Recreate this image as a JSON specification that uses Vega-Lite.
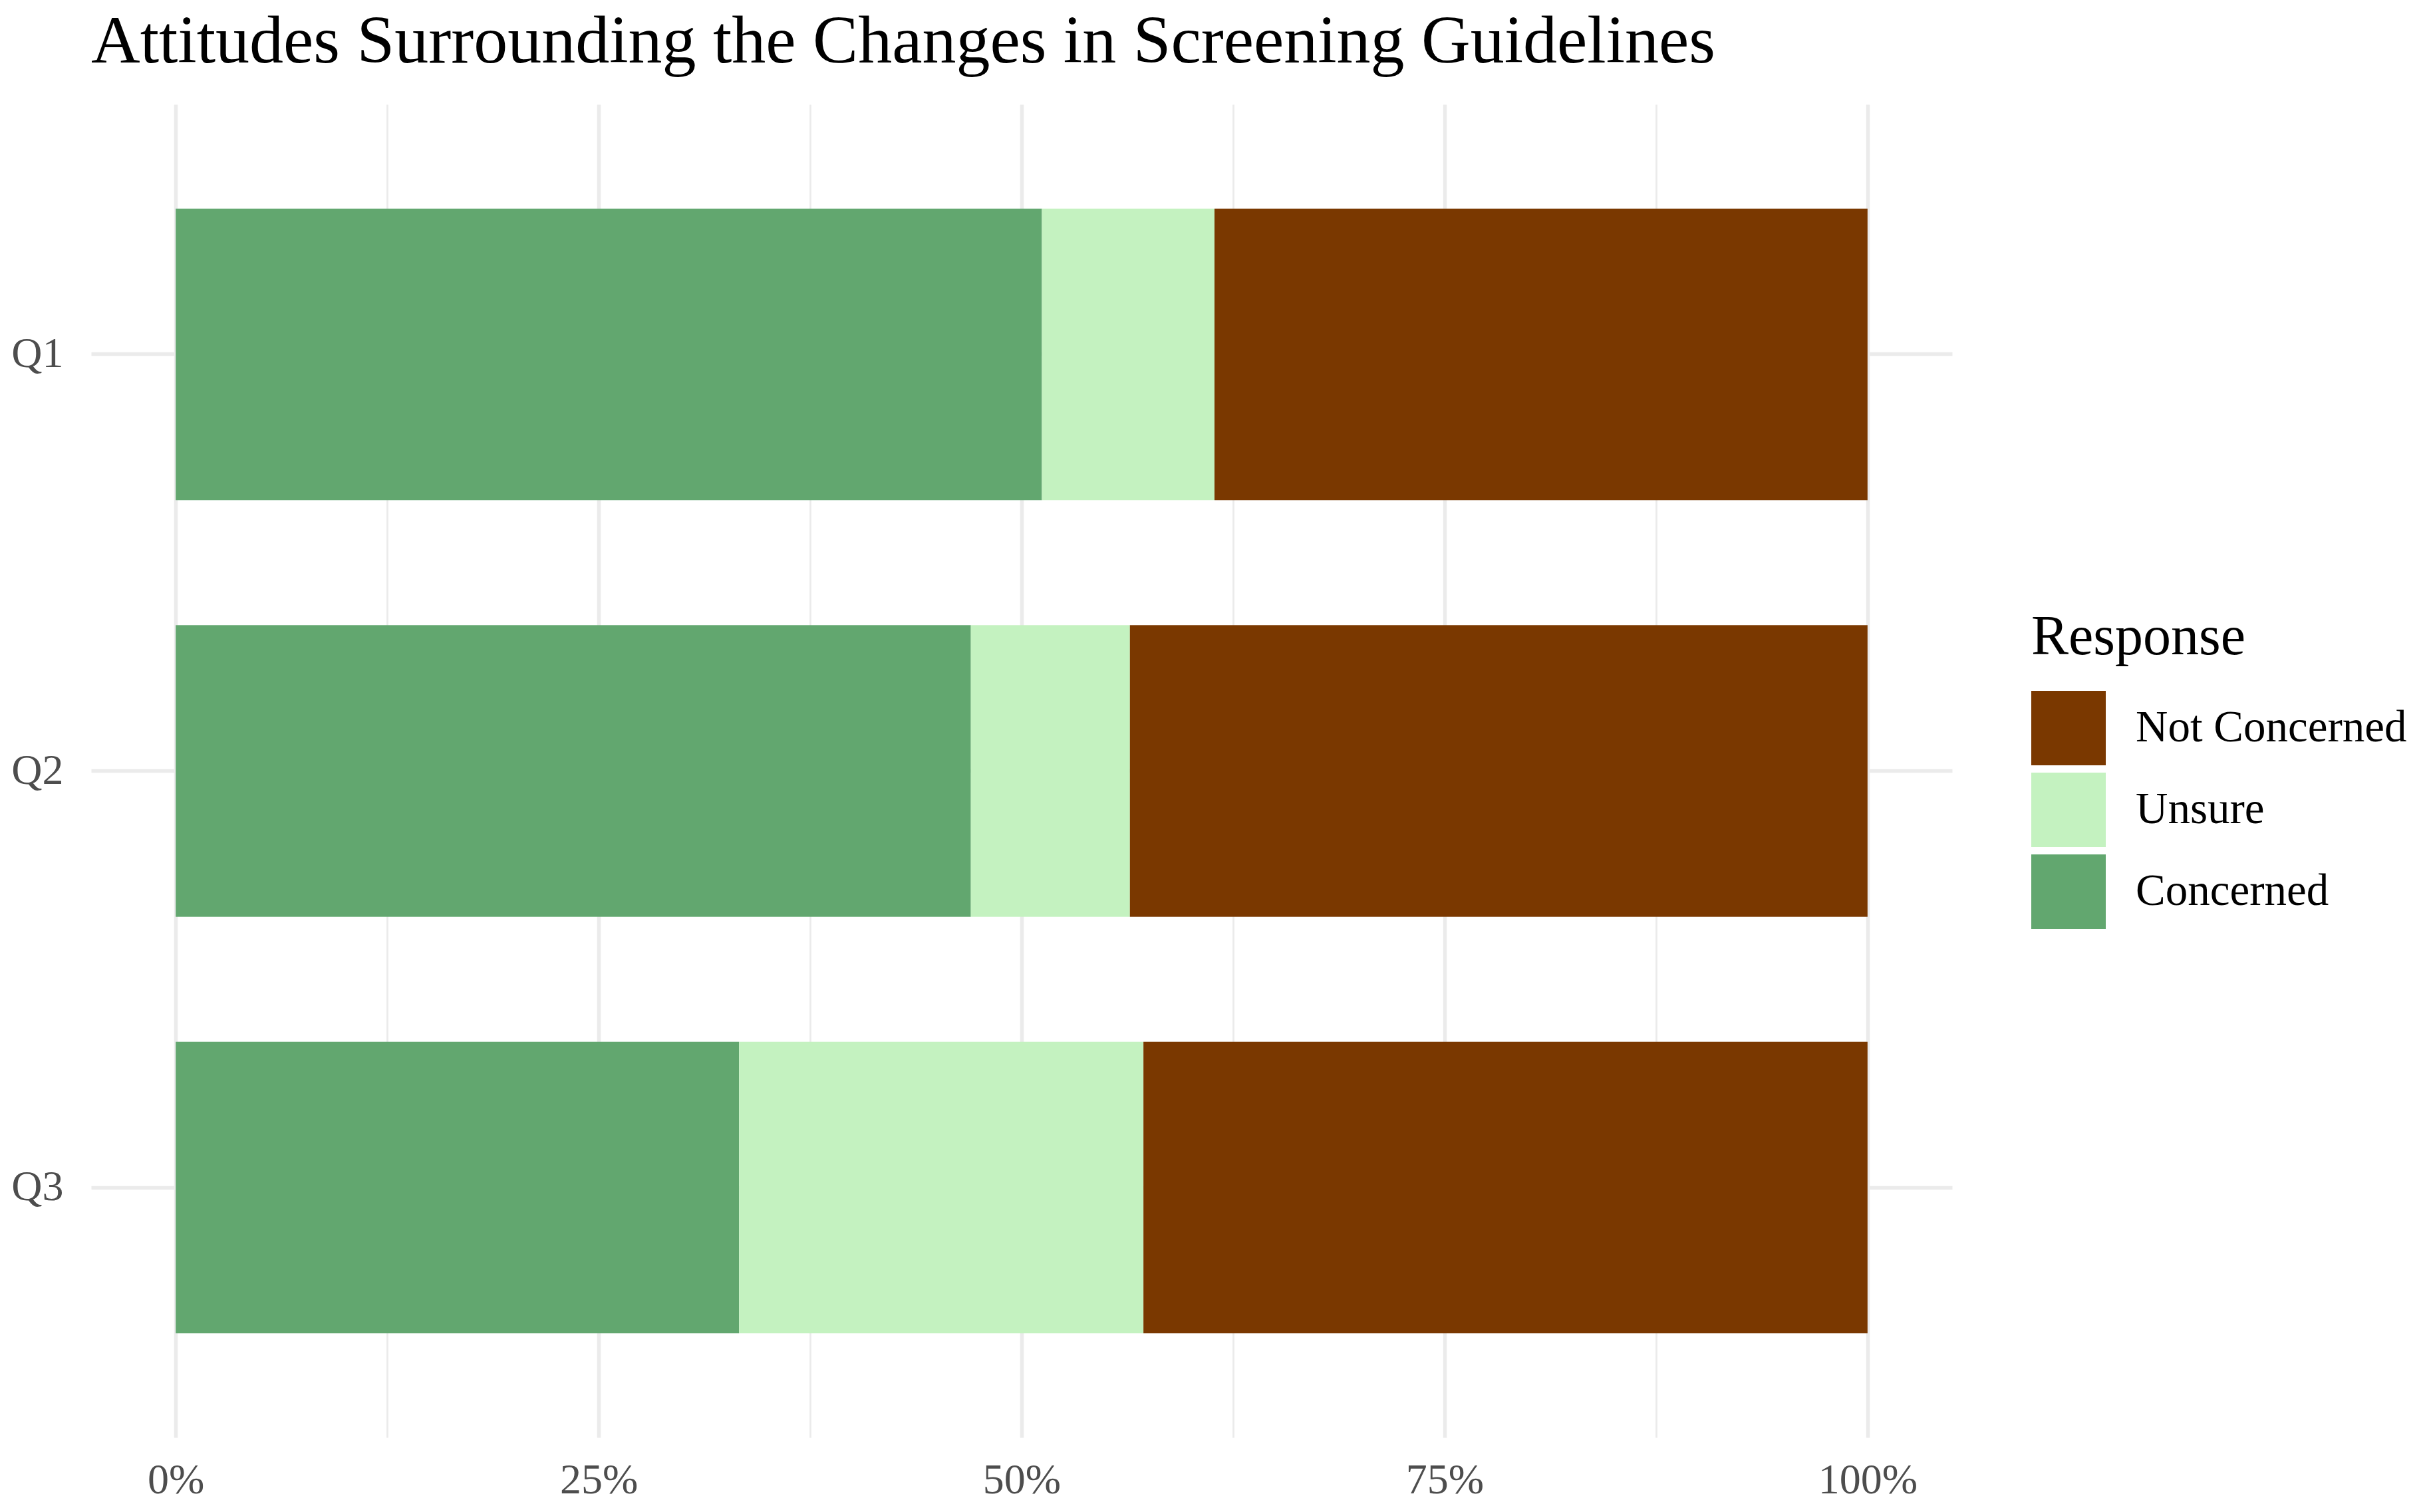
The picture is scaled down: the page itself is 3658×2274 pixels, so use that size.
{
  "$schema": "https://vega.github.io/schema/vega-lite/v6.json",
  "autosize": "none",
  "width": 2798,
  "height": 2005,
  "padding": {"left": 137, "top": 157, "right": 723, "bottom": 112},
  "background": "white",
  "title": {
    "text": "Attitudes Surrounding the Changes in Screening Guidelines",
    "anchor": "start",
    "frame": "group",
    "font": "Liberation Serif",
    "fontSize": 102,
    "fontWeight": "normal",
    "color": "#000000",
    "baseline": "alphabetic",
    "offset": -39,
    "limit": 0
  },
  "data": {
    "values": [
      {"Question": "Q1", "Response": "Concerned", "Level": 1, "Share": 0.512},
      {"Question": "Q1", "Response": "Unsure", "Level": 2, "Share": 0.102},
      {"Question": "Q1", "Response": "Not Concerned", "Level": 3, "Share": 0.386},
      {"Question": "Q2", "Response": "Concerned", "Level": 1, "Share": 0.470},
      {"Question": "Q2", "Response": "Unsure", "Level": 2, "Share": 0.094},
      {"Question": "Q2", "Response": "Not Concerned", "Level": 3, "Share": 0.436},
      {"Question": "Q3", "Response": "Concerned", "Level": 1, "Share": 0.333},
      {"Question": "Q3", "Response": "Unsure", "Level": 2, "Share": 0.239},
      {"Question": "Q3", "Response": "Not Concerned", "Level": 3, "Share": 0.428}
    ]
  },
  "mark": {"type": "bar", "strokeWidth": 0},
  "encoding": {
    "y": {
      "field": "Question",
      "type": "nominal",
      "sort": ["Q1", "Q2", "Q3"],
      "scale": {"paddingInner": 0.3, "paddingOuter": 0.25},
      "axis": {
        "title": null,
        "bandPosition": 0.5,
        "domain": false,
        "ticks": false,
        "tickSize": 0,
        "labelPadding": 42,
        "labelFont": "Liberation Serif",
        "labelFontSize": 64,
        "labelColor": "#4D4D4D",
        "grid": true,
        "gridColor": "#EBEBEB",
        "gridWidth": 5.5
      }
    },
    "x": {
      "field": "Share",
      "type": "quantitative",
      "stack": "zero",
      "scale": {"domain": [-0.05, 1.05], "nice": false, "zero": false},
      "axis": {
        "title": null,
        "values": [0, 0.125, 0.25, 0.375, 0.5, 0.625, 0.75, 0.875, 1],
        "labelExpr": "(datum.value * 4) % 1 === 0 ? format(datum.value, '.0%') : ''",
        "domain": false,
        "ticks": false,
        "tickSize": 0,
        "labelPadding": 32,
        "labelFont": "Liberation Serif",
        "labelFontSize": 64,
        "labelColor": "#4D4D4D",
        "labelFlush": false,
        "labelOverlap": false,
        "grid": true,
        "gridColor": "#EBEBEB",
        "gridWidth": {"condition": {"test": "(datum.value * 4) % 1 !== 0", "value": 2.8}, "value": 5.5}
      }
    },
    "color": {
      "field": "Response",
      "type": "nominal",
      "scale": {
        "domain": ["Not Concerned", "Unsure", "Concerned"],
        "range": ["#7A3800", "#C4F2C0", "#62A76F"]
      },
      "legend": {
        "orient": "none",
        "legendX": 2917,
        "legendY": 761,
        "padding": 0,
        "title": "Response",
        "titleFont": "Liberation Serif",
        "titleFontSize": 84,
        "titleFontWeight": "normal",
        "titleColor": "#000000",
        "titlePadding": 37,
        "titleLimit": 0,
        "labelFont": "Liberation Serif",
        "labelFontSize": 67,
        "labelColor": "#000000",
        "labelOffset": 45,
        "labelLimit": 0,
        "symbolType": "square",
        "symbolSize": 12544,
        "symbolStrokeWidth": 0,
        "symbolOpacity": 1,
        "rowPadding": 11
      }
    },
    "order": {"field": "Level", "type": "quantitative", "sort": "ascending"}
  },
  "config": {"view": {"stroke": null}}
}
